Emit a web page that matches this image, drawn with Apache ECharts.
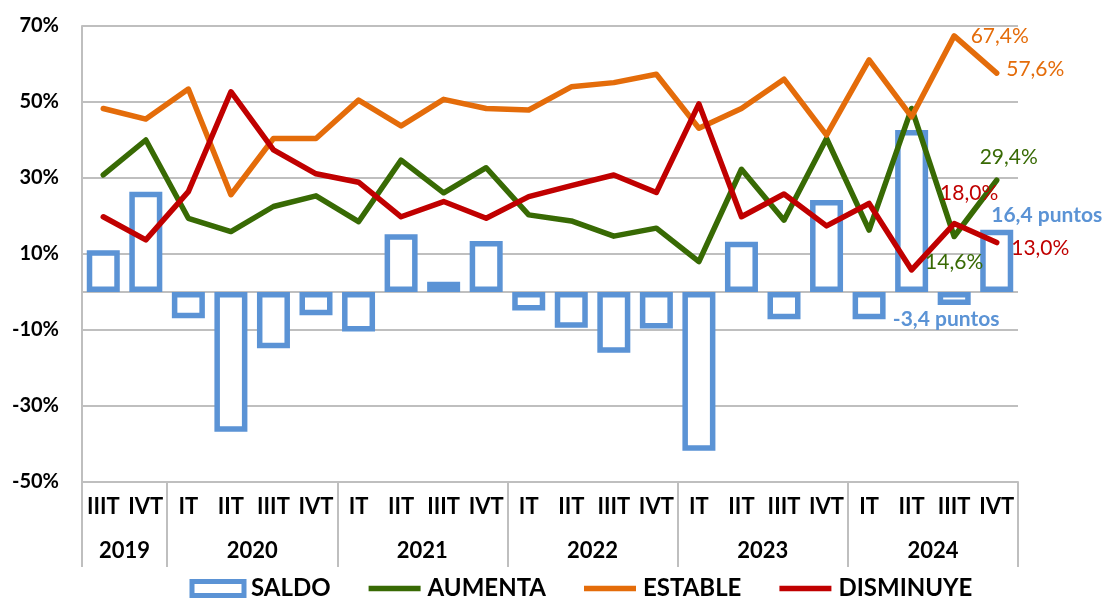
<!DOCTYPE html>
<html>
<head>
<meta charset="utf-8">
<script src="https://cdn.jsdelivr.net/npm/echarts@6/dist/echarts.min.js"></script>
<style>
html,body{margin:0;padding:0;background:#fff;}
#chart{width:1108px;height:599px;}
</style>
</head>
<body>
<div id="chart"></div>
<script>
const quarters = ['IIIT','IVT','IT','IIT','IIIT','IVT','IT','IIT','IIIT','IVT','IT','IIT','IIIT','IVT','IT','IIT','IIIT','IVT','IT','IIT','IIIT','IVT'];
const years = ['2019','2020','2021','2022','2023','2024'];
const quartersPerYear = [2,4,4,4,4,4];
const saldo = [11.0, 26.4, -6.9, -36.8, -14.8, -6.1, -10.4, 15.2, 2.7, 13.4, -4.9, -9.4, -16.0, -9.6, -41.8, 13.2, -7.2, 24.2, -7.2, 42.6, -3.4, 16.4];
const aumenta = [30.8, 40.0, 19.4, 15.9, 22.5, 25.3, 18.5, 34.7, 26.1, 32.7, 20.3, 18.7, 14.7, 16.8, 8.0, 32.3, 18.9, 40.4, 16.3, 48.3, 14.6, 29.4];
const estable = [48.3, 45.5, 53.4, 25.6, 40.4, 40.4, 50.5, 43.7, 50.7, 48.3, 47.9, 54.0, 55.1, 57.3, 43.1, 48.3, 56.0, 41.3, 61.1, 46.1, 67.4, 57.6];
const disminuye = [19.8, 13.7, 26.4, 52.7, 37.4, 31.1, 28.9, 19.8, 23.8, 19.4, 25.1, 28.0, 30.8, 26.2, 49.5, 19.8, 25.8, 17.4, 23.3, 5.8, 18.0, 13.0];
const yTickLabels = [-50, -30, -10, 10, 30, 50, 70];
const yGridLines = [-50, -30, -10, 0, 10, 30, 50, 70];

// year group boundaries/centres on a 0..N scale derived from quarter counts
const yearBounds = [0];
quartersPerYear.forEach(n => yearBounds.push(yearBounds[yearBounds.length - 1] + n));
const yearCenters = years.map((y, i) => (yearBounds[i] + yearBounds[i + 1]) / 2);

const C_BLUE = '#5B93D5', C_GREEN = '#386A04', C_ORANGE = '#E46C0A', C_RED = '#C00000';
const FONT = 'Lato';
const fmtPct = v => v.toFixed(1).replace('.', ',') + '%';
const fmtPts = v => v.toFixed(1).replace('.', ',') + ' puntos';

const n = quarters.length;
function withLabels(values, labels) {
  return values.map((v, i) => labels[i] ? { value: v, symbol: 'circle', symbolSize: 1, label: labels[i] } : v);
}
function pctLabel(color, extra) {
  return Object.assign({ show: true, color: color, fontFamily: FONT, fontSize: 21, formatter: p => fmtPct(p.value) }, extra);
}
function ptsLabel(extra) {
  return Object.assign({ show: true, color: C_BLUE, fontFamily: FONT, fontWeight: 'bold', fontSize: 21, formatter: p => fmtPts(p.value) }, extra);
}

const saldoLabels = {}; saldoLabels[n - 1] = ptsLabel({ position: 'top', distance: 4, offset: [50, 0] }); saldoLabels[n - 2] = ptsLabel({ position: 'bottom', distance: 4, offset: [-8, 0] });
const saldoData = saldo.map((v, i) => saldoLabels[i] ? { value: v, label: saldoLabels[i] } : v);

const estLabels = {}; estLabels[n - 2] = pctLabel(C_ORANGE, { position: 'right', distance: 16 }); estLabels[n - 1] = pctLabel(C_ORANGE, { position: 'right', distance: 9, offset: [0, -4] });
const aumLabels = {}; aumLabels[n - 2] = pctLabel(C_GREEN, { position: 'bottom', distance: 15 }); aumLabels[n - 1] = pctLabel(C_GREEN, { position: 'top', distance: 12, offset: [12, 0] });
const disLabels = {}; disLabels[n - 2] = pctLabel(C_RED, { position: 'top', distance: 19, offset: [15, 0] }); disLabels[n - 1] = pctLabel(C_RED, { position: 'right', distance: 14, offset: [0, 6] });

const lineCommon = { type: 'line', symbol: 'none', smooth: false, z: 3 };
function lineStyle(c) { return { color: c, width: 5.5, join: 'round', cap: 'round' }; }
const LINE_ICON = 'path://M0,0L52,0L52,5.5L0,5.5Z';

const chart = echarts.init(document.getElementById('chart'), null, { renderer: 'canvas' });
chart.setOption({
  animation: false,
  backgroundColor: '#fff',
  textStyle: { fontFamily: FONT },
  grid: { left: 82, right: 90, top: 26, bottom: 117, containLabel: false },
  legend: {
    left: 184.5, top: 571.5,
    itemWidth: 52, itemHeight: 14, itemGap: 38,
    textStyle: { fontSize: 24, fontWeight: 'bold', color: '#000', fontFamily: FONT, padding: [5, 0, 0, 2] },
    data: [
      { name: 'SALDO', icon: 'rect', itemStyle: { color: '#fff', borderColor: C_BLUE, borderWidth: 5 } },
      { name: 'AUMENTA', icon: LINE_ICON, itemStyle: { color: C_GREEN, borderWidth: 0 } },
      { name: 'ESTABLE', icon: LINE_ICON, itemStyle: { color: C_ORANGE, borderWidth: 0 } },
      { name: 'DISMINUYE', icon: LINE_ICON, itemStyle: { color: C_RED, borderWidth: 0 } }
    ]
  },
  xAxis: [
    {
      type: 'category', data: quarters, position: 'bottom',
      axisLine: { onZero: false, lineStyle: { color: '#bfbfbf', width: 2 } },
      axisTick: { show: false },
      axisLabel: { interval: 0, margin: 14, fontSize: 22, fontWeight: 'bold', color: '#000', fontFamily: FONT }
    },
    {
      type: 'value', min: 0, max: yearBounds[yearBounds.length - 1], position: 'bottom',
      axisLine: { show: false, onZero: false },
      splitLine: { show: false },
      axisTick: { show: true, customValues: yearBounds, length: 85, lineStyle: { color: '#bfbfbf', width: 2 } },
      axisLabel: {
        customValues: yearCenters, margin: 58, fontSize: 22, fontWeight: 'bold', color: '#000', fontFamily: FONT,
        formatter: v => { const k = yearCenters.indexOf(v); return k >= 0 ? years[k] : ''; }
      }
    }
  ],
  yAxis: {
    type: 'value', min: -50, max: 70,
    axisLine: { show: true, onZero: false, lineStyle: { color: '#bfbfbf', width: 2 } },
    axisTick: { show: false, customValues: yGridLines },
    splitLine: { show: true, lineStyle: { color: '#bfbfbf', width: 2 } },
    axisLabel: { customValues: yTickLabels, formatter: v => v + '%', margin: 23, fontSize: 20, fontWeight: 'bold', color: '#000', fontFamily: FONT }
  },
  series: [
    {
      name: 'SALDO', type: 'bar', data: saldoData, barWidth: 33, z: 2,
      itemStyle: { color: '#fff', borderColor: C_BLUE, borderWidth: 5.5 }
    },
    Object.assign({}, lineCommon, { name: 'AUMENTA', data: withLabels(aumenta, aumLabels), lineStyle: lineStyle(C_GREEN), itemStyle: { color: C_GREEN } }),
    Object.assign({}, lineCommon, { name: 'ESTABLE', data: withLabels(estable, estLabels), lineStyle: lineStyle(C_ORANGE), itemStyle: { color: C_ORANGE } }),
    Object.assign({}, lineCommon, { name: 'DISMINUYE', data: withLabels(disminuye, disLabels), lineStyle: lineStyle(C_RED), itemStyle: { color: C_RED } })
  ]
});
</script>
</body>
</html>
